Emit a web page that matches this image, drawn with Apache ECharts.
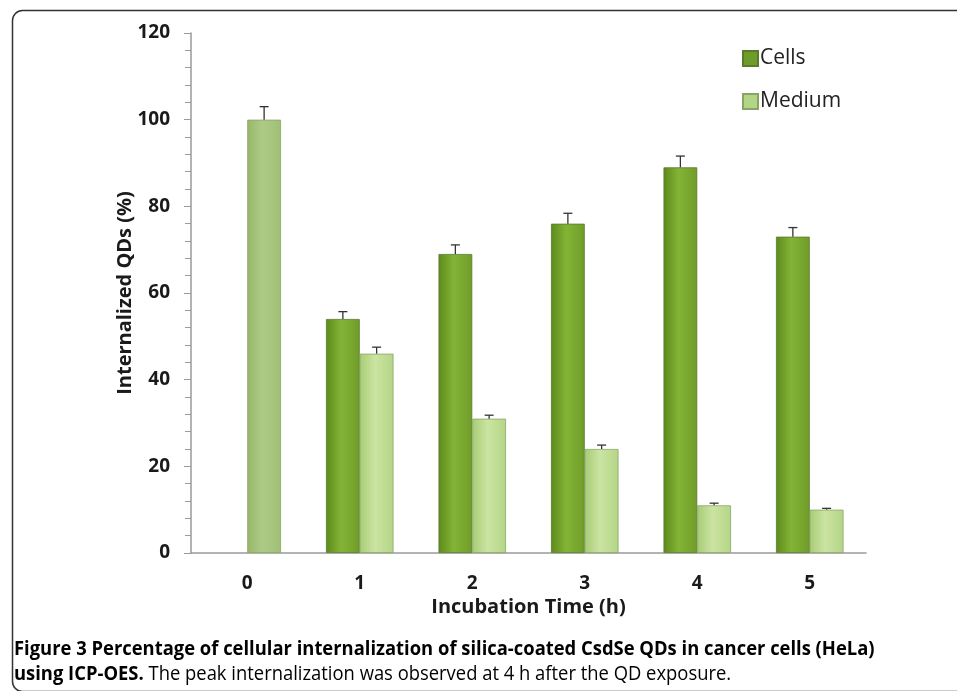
<!DOCTYPE html>
<html>
<head>
<meta charset="utf-8">
<script src="https://cdn.jsdelivr.net/npm/echarts@6/dist/echarts.min.js"></script>
<style>
html,body{margin:0;padding:0;background:#fff;}
#c{width:957px;height:691px;}
</style>
</head>
<body>
<div id="c"></div>
<script>
const categories = ['0', '1', '2', '3', '4', '5'];
const cellsValues = [null, 54, 69, 76, 89, 73];
const mediumValues = [100, 46, 31, 24, 11, 10];
const cellsErr = [0, 1.7, 2.1, 2.4, 2.6, 2.1];
const mediumErr = [3, 1.5, 0.8, 0.9, 0.5, 0.3];
const yTicks = { min: 0, max: 120, interval: 20 };

const chart = echarts.init(document.getElementById('c'));
const BAR_FRAC = 0.30;

function errSeries(name, values, errs, side) {
  return {
    type: 'custom',
    name: name + ' error',
    silent: true,
    z: 5,
    data: values.map((v, i) => [i, v, errs[i]]),
    renderItem: function (params, api) {
      const v = api.value(1);
      if (v === null || isNaN(v)) return null;
      const e = api.value(2);
      const band = api.size([1, 0])[0];
      const off = side * band * BAR_FRAC / 2;
      const p0 = api.coord([api.value(0), v]);
      const p1 = api.coord([api.value(0), v + e]);
      const x = p0[0] + off;
      const cap = 4.5;
      return {
        type: 'group',
        children: [
          { type: 'line', shape: { x1: x, y1: p0[1], x2: x, y2: p1[1] }, style: { stroke: '#333', lineWidth: 1.3 } },
          { type: 'line', shape: { x1: x - cap, y1: p1[1], x2: x + cap, y2: p1[1] }, style: { stroke: '#333', lineWidth: 1.3 } }
        ]
      };
    }
  };
}

const cellsGrad = new echarts.graphic.LinearGradient(0, 0, 1, 0, [
  { offset: 0, color: '#5c8a1c' },
  { offset: 0.45, color: '#84b436' },
  { offset: 1, color: '#6f9c28' }
]);
const mediumGrad = new echarts.graphic.LinearGradient(0, 0, 1, 0, [
  { offset: 0, color: '#a6cc74' },
  { offset: 0.45, color: '#cbe4a2' },
  { offset: 1, color: '#b4d586' }
]);
const medium0Grad = new echarts.graphic.LinearGradient(0, 0, 1, 0, [
  { offset: 0, color: '#95b76a' },
  { offset: 0.45, color: '#aecb86' },
  { offset: 1, color: '#9fbf76' }
]);

chart.setOption({
  animation: false,
  backgroundColor: '#fff',
  textStyle: { fontFamily: 'Open Sans' },
  grid: { left: 191, right: 91, top: 33, bottom: 138 },
  legend: {
    orient: 'vertical',
    left: 737,
    top: 43,
    itemWidth: 15,
    itemHeight: 15,
    itemGap: 22,
    icon: 'rect',
    textStyle: { fontSize: 21, color: '#222', fontFamily: 'Open Sans', padding: [0, 0, 0, -3] },
    data: [
      { name: 'Cells', itemStyle: { color: '#6f9c28' } },
      { name: 'Medium', itemStyle: { color: '#b4d586' } }
    ]
  },
  xAxis: {
    type: 'category',
    data: categories,
    name: 'Incubation Time (h)',
    nameLocation: 'middle',
    nameGap: 44,
    nameMoveOverlap: false,
    nameTextStyle: { fontSize: 20, fontWeight: 'bold', color: '#1a1a1a' },
    axisLine: { lineStyle: { color: '#9a9a9a', width: 1.5 } },
    axisTick: { show: false },
    axisLabel: { margin: 21, fontSize: 19, fontWeight: 'bold', color: '#1a1a1a' }
  },
  yAxis: {
    type: 'value',
    min: yTicks.min, max: yTicks.max, interval: yTicks.interval,
    name: 'Internalized QDs (%)',
    nameLocation: 'middle',
    nameGap: 56,
    nameMoveOverlap: false,
    nameTextStyle: { fontSize: 20, fontWeight: 'bold', color: '#1a1a1a' },
    axisLine: { show: true, lineStyle: { color: '#9a9a9a', width: 1.5 } },
    axisTick: { show: true, length: 7, lineStyle: { color: '#9a9a9a' } },
    minorTick: { show: true, splitNumber: 5, length: 6, lineStyle: { color: '#9a9a9a' } },
    splitLine: { show: false },
    axisLabel: { margin: 21, fontSize: 19, fontWeight: 'bold', color: '#1a1a1a' }
  },
  series: [
    {
      name: 'Cells', type: 'bar', data: cellsValues,
      barWidth: (BAR_FRAC * 100) + '%', barGap: '0%',
      itemStyle: { color: cellsGrad, borderColor: '#5a7a30', borderWidth: 0.8 }
    },
    {
      name: 'Medium', type: 'bar',
      data: mediumValues.map((v, i) => i === 0 ? { value: v, itemStyle: { color: medium0Grad } } : v),
      barWidth: (BAR_FRAC * 100) + '%', barGap: '0%',
      itemStyle: { color: mediumGrad, borderColor: '#8aa468', borderWidth: 0.8 }
    },
    errSeries('Cells', cellsValues, cellsErr, -1),
    errSeries('Medium', mediumValues, mediumErr, 1)
  ],
  graphic: [
    {
      type: 'rect', left: 10, top: 8, z: -1, silent: true,
      shape: { width: 960, height: 681, r: 10 },
      style: { fill: 'none', stroke: '#333', lineWidth: 1.5 }
    },
    {
      type: 'text', x: 14, y: 637, scaleX: 0.92, silent: true,
      style: {
        text: '{b|Figure 3 Percentage of cellular internalization of silica-coated CsdSe QDs in cancer cells (HeLa)}\n{b|using ICP-OES.}{r| The peak internalization was observed at 4 h after the QD exposure.}',
        font: '20px "Open Sans"',
        lineHeight: 25,
        rich: {
          b: { fontFamily: 'Open Sans', fontWeight: 'bold', fontSize: 20, color: '#1a1a1a', lineHeight: 25 },
          r: { fontFamily: 'Open Sans', fontSize: 20, color: '#444', lineHeight: 25 }
        }
      }
    }
  ]
});
</script>
</body>
</html>
